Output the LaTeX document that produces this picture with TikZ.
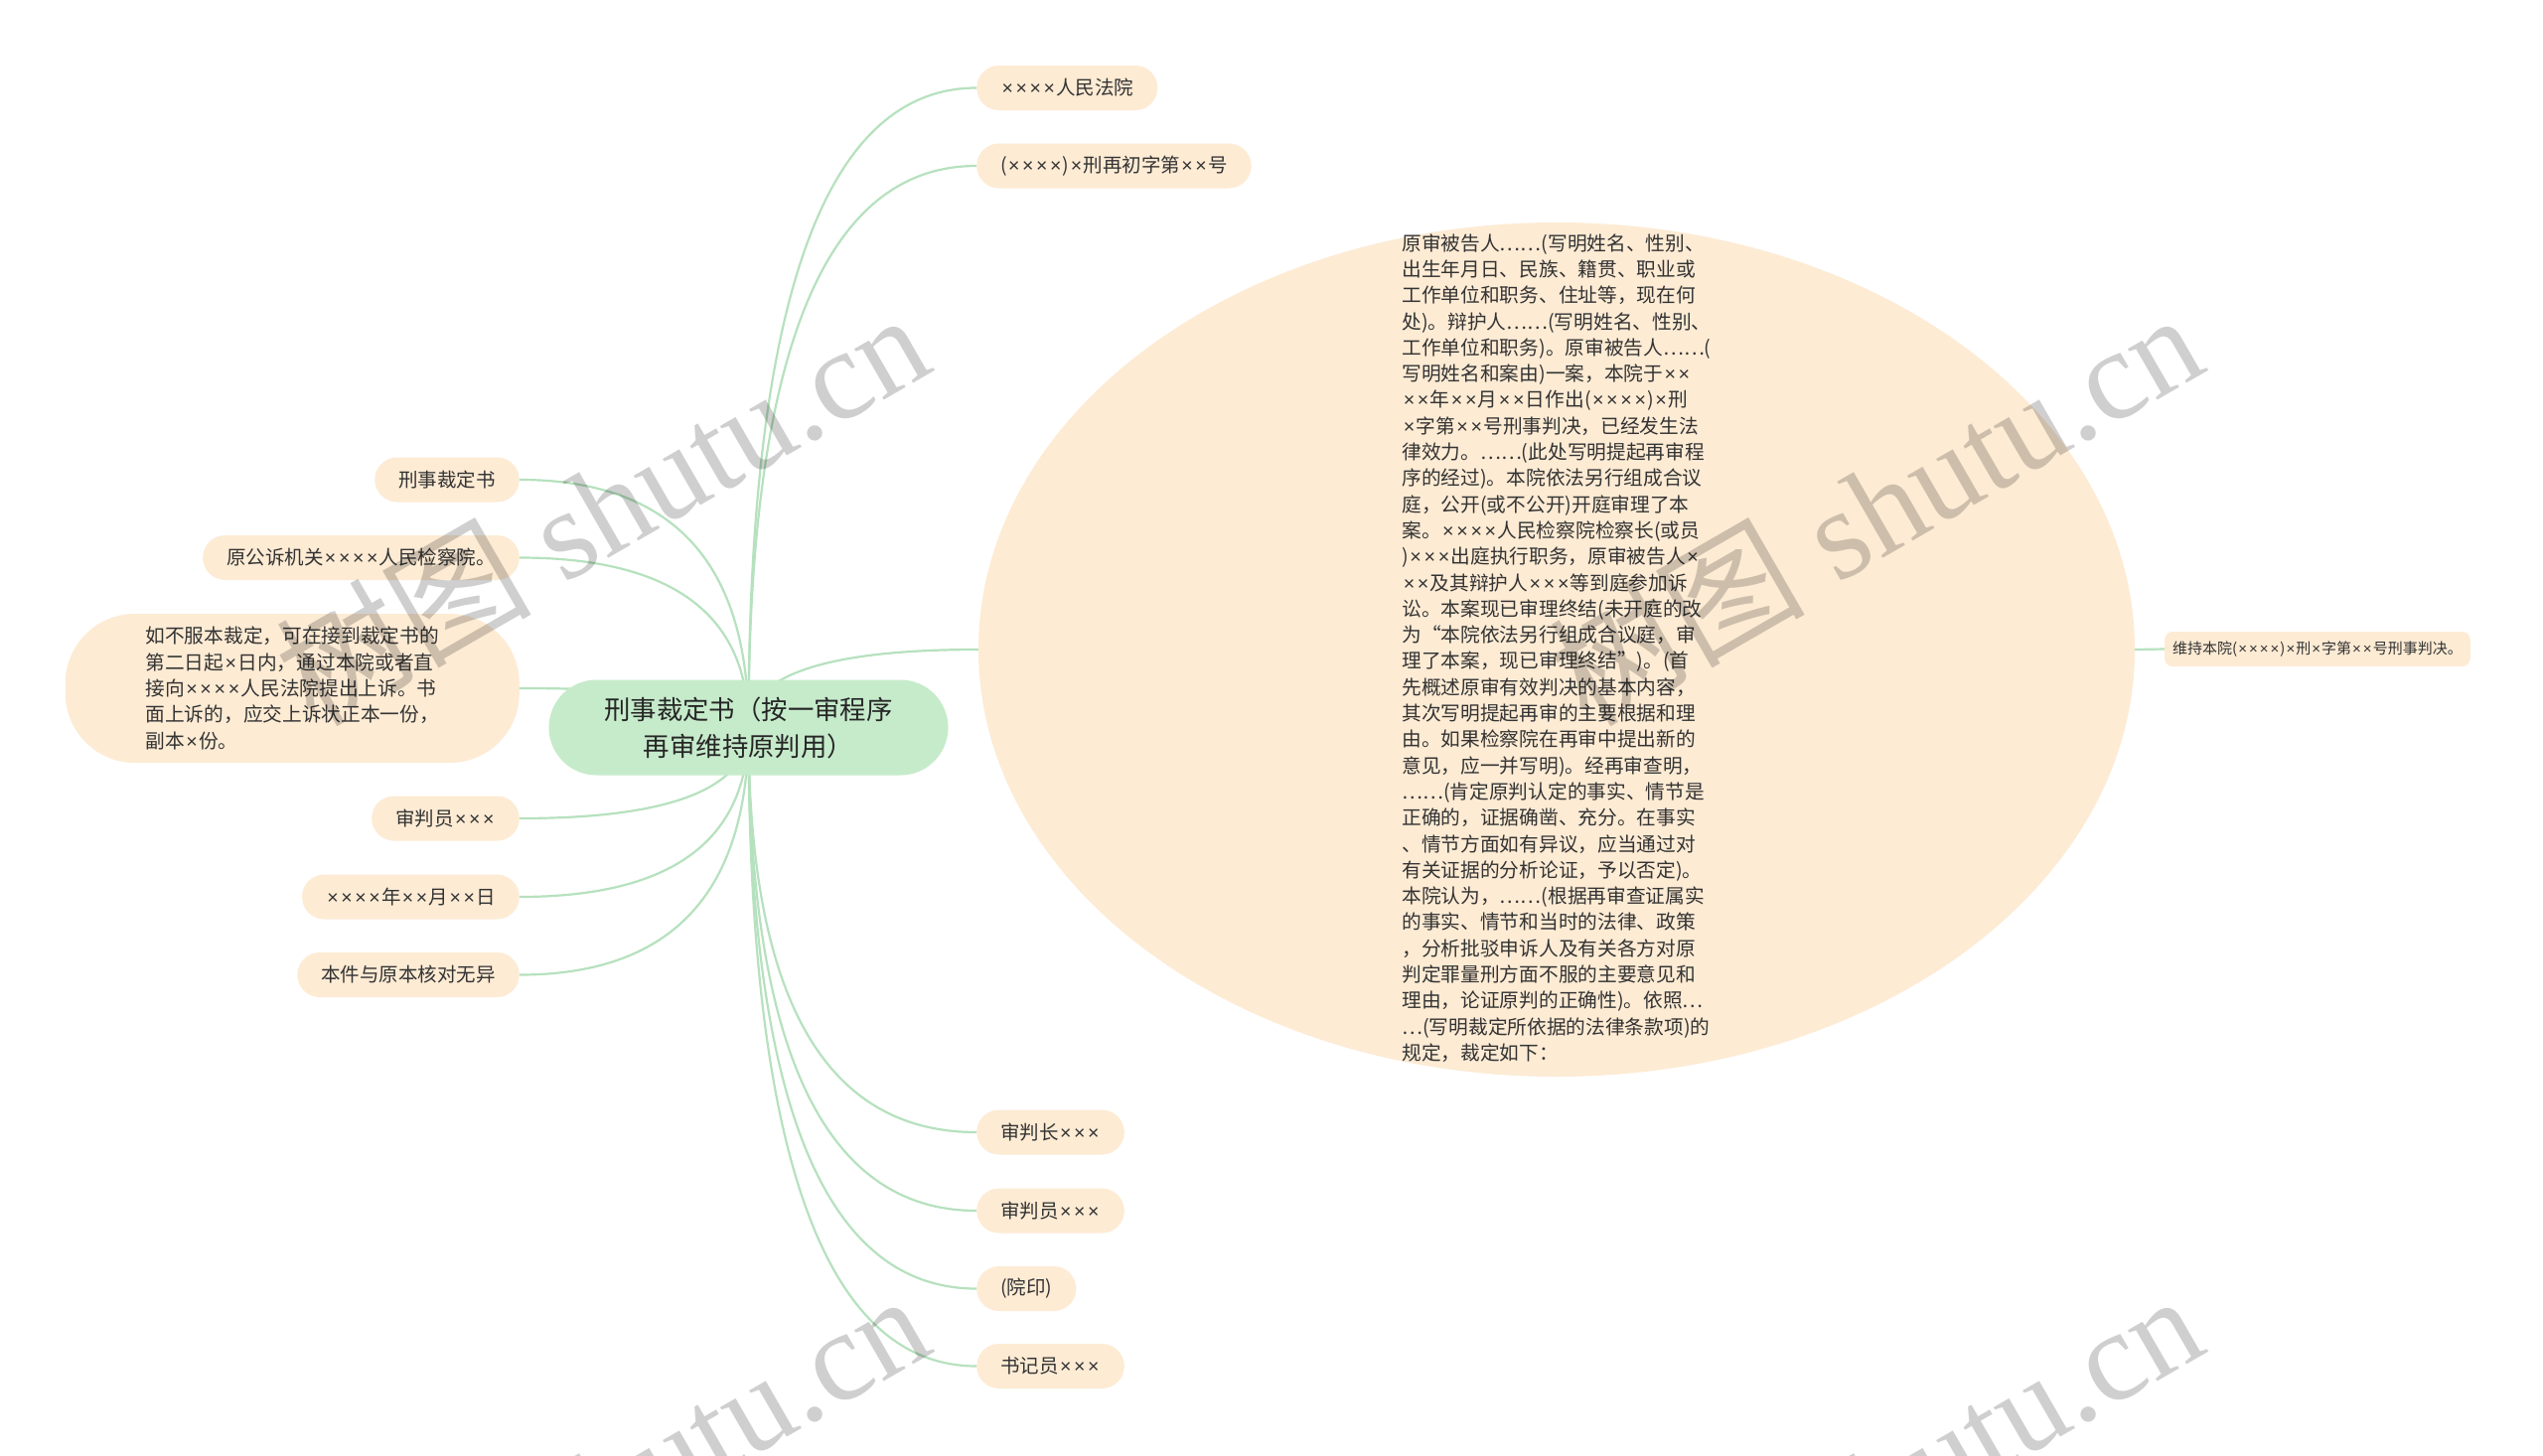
\documentclass[tikz,border=0pt]{standalone}
\usepackage{fontspec}
\usepackage{newunicodechar}
\newfontfamily\cjk{Noto Sans CJK SC}
\newfontfamily\wmserif{Liberation Serif}
\newfontfamily\xfont{Liberation Sans}
\newunicodechar{×}{\hbox to 0.72em{\hss{\xfont\symbol{"00D7}}\hss}}
\usetikzlibrary{shapes.geometric,calc,backgrounds}
\definecolor{leaffill}{HTML}{FDEBD4}
\definecolor{rootfill}{HTML}{C6EBCB}
\definecolor{linkcol}{HTML}{B6E1BE}
\definecolor{txt}{HTML}{333333}
\newcommand\mmlink[2]{\draw[conn] (#1) .. controls ($(#1)!0.6667!(#1 |- #2)$) and ($(#2)!0.6667!(#1 |- #2)$) .. (#2);}
\begin{document}
\begin{tikzpicture}[x=1pt,y=-1pt,
  leaf/.style={draw=none, fill=leaffill, rounded corners=22.5pt, minimum height=45pt,
    inner xsep=24pt, inner ysep=0pt, font=\cjk\fontsize{19.5}{26.3}\selectfont, text=txt},
  smallleaf/.style={draw=none, fill=leaffill, rounded corners=8pt, minimum height=35pt,
    inner xsep=8pt, inner ysep=0pt, font=\cjk\fontsize{15}{18}\selectfont, text=txt},
  rootnode/.style={draw=none, fill=rootfill, rounded corners=48pt, minimum width=402pt,
    minimum height=96pt, align=center, font=\cjk\fontsize{26.4}{37}\selectfont, text=black!85},
  bigoval/.style={ellipse, draw=none, fill=leaffill, minimum width=1164pt, minimum height=860pt, inner sep=0pt},
  bodytext/.style={align=left, inner sep=0pt, font=\cjk\fontsize{19.7}{26.3}\selectfont, text=txt},
  conn/.style={draw=linkcol, line width=2.2pt},
  wm/.style={rotate=30, anchor=base west, inner sep=0pt, text=black, text opacity=0.19,
    font=\wmserif\fontsize{129}{129}\selectfont}
]
\useasboundingbox (0,0) rectangle (2560,1465);

% root
\node[rootnode] (R) at (753.5,732.5) {刑事裁定书（按一审程序\\再审维持原判用）};

% right side leaves
\node[leaf, anchor=west] (L1) at (983,88.5) {××××人民法院};
\node[leaf, anchor=west] (L2) at (983,167) {(××××)×刑再初字第××号};
\node[leaf, anchor=west] (B1) at (983,1140) {审判长×××};
\node[leaf, anchor=west] (B2) at (983,1219) {审判员×××};
\node[leaf, anchor=west] (B3) at (983,1297.5) {(院印)};
\node[leaf, anchor=west] (B4) at (983,1375.5) {书记员×××};

% left side leaves
\node[leaf, anchor=east] (A1) at (523,483) {刑事裁定书};
\node[leaf, anchor=east] (A2) at (523,561.5) {原公诉机关××××人民检察院。};
\node[leaf, anchor=east, rounded corners=70pt, minimum width=457pt, minimum height=150pt,
  align=left, font=\cjk\fontsize{19.7}{26.3}\selectfont] (A3) at (523,693)
  {如不服本裁定，可在接到裁定书的\\第二日起×日内，通过本院或者直\\接向××××人民法院提出上诉。书\\面上诉的，应交上诉状正本一份，\\副本×份。};
\node[leaf, anchor=east] (A4) at (523,824) {审判员×××};
\node[leaf, anchor=east] (A5) at (523,903) {××××年××月××日};
\node[leaf, anchor=east] (A6) at (523,981.5) {本件与原本核对无异};

% big oval
\node[bigoval] (E) at (1567,654) {};
\node[bodytext] (ET) at (1567,652.5) {原审被告人……(写明姓名、性别、\\
出生年月日、民族、籍贯、职业或\\
工作单位和职务、住址等，现在何\\
处)。辩护人……(写明姓名、性别、\\
工作单位和职务)。原审被告人……(\\
写明姓名和案由)一案，本院于××\\
××年××月××日作出(××××)×刑\\
×字第××号刑事判决，已经发生法\\
律效力。……(此处写明提起再审程\\
序的经过)。本院依法另行组成合议\\
庭，公开(或不公开)开庭审理了本\\
案。××××人民检察院检察长(或员\\
)×××出庭执行职务，原审被告人×\\
××及其辩护人×××等到庭参加诉\\
讼。本案现已审理终结(未开庭的改\\
为“本院依法另行组成合议庭，审\\
理了本案，现已审理终结”)。(首\\
先概述原审有效判决的基本内容，\\
其次写明提起再审的主要根据和理\\
由。如果检察院在再审中提出新的\\
意见，应一并写明)。经再审查明，\\
……(肯定原判认定的事实、情节是\\
正确的，证据确凿、充分。在事实\\
、情节方面如有异议，应当通过对\\
有关证据的分析论证，予以否定)。\\
本院认为，……(根据再审查证属实\\
的事实、情节和当时的法律、政策\\
，分析批驳申诉人及有关各方对原\\
判定罪量刑方面不服的主要意见和\\
理由，论证原判的正确性)。依照…\\
…(写明裁定所依据的法律条款项)的\\
规定，裁定如下：};

\node[smallleaf, anchor=west] (RL) at (2179,653.5) {维持本院(××××)×刑×字第××号刑事判决。};

% connectors
\begin{scope}[on background layer]
\fill[white] (0,0) rectangle (2560,1465);
\mmlink{R.center}{L1.west}
\mmlink{R.center}{L2.west}
\mmlink{R.center}{E.west}
\mmlink{R.center}{B1.west}
\mmlink{R.center}{B2.west}
\mmlink{R.center}{B3.west}
\mmlink{R.center}{B4.west}
\mmlink{R.center}{A1.east}
\mmlink{R.center}{A2.east}
\mmlink{R.center}{A3.east}
\mmlink{R.center}{A4.east}
\mmlink{R.center}{A5.east}
\mmlink{R.center}{A6.east}
\draw[conn] (E.east) -- (RL.west);
\end{scope}

% watermarks
\node[wm] (W1) at (316,734) {{\cjk 树图} shutu.cn};
\node[wm] (W2) at (1598,734) {{\cjk 树图} shutu.cn};
\node[wm] (W3) at (316,1722) {{\cjk 树图} shutu.cn};
\node[wm] (W4) at (1598,1722) {{\cjk 树图} shutu.cn};
\end{tikzpicture}
\end{document}
